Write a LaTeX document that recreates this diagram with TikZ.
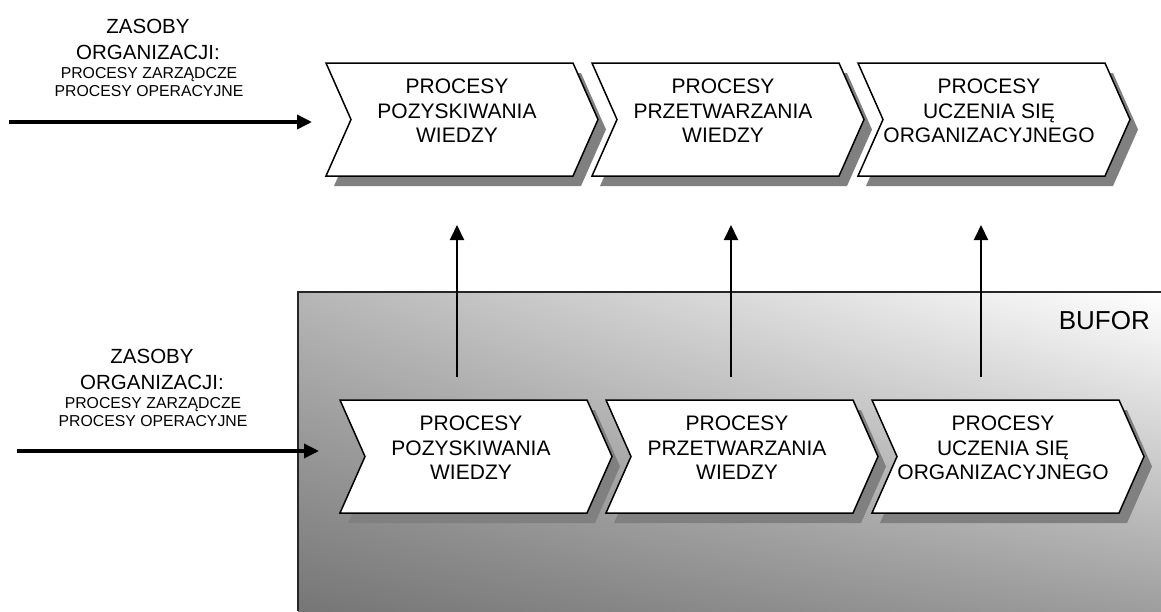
\documentclass[tikz,border=0pt]{standalone}
\usepackage{fontspec}
\setmainfont{Liberation Sans}
\usetikzlibrary{arrows.meta,shadings}

\definecolor{shadowgray}{HTML}{808080}
\definecolor{bufdark}{HTML}{767676}
\definecolor{bufupleft}{HTML}{B6B6B6}
\definecolor{buflowright}{HTML}{9E9E9E}

\tikzset{
  chevbox/.style={draw=black, line width=1.5pt, fill=white, line join=miter},
  chevshadow/.style={fill=shadowgray, draw=none},
  chevtext/.style={anchor=base, inner sep=0pt, font=\fontsize{21}{24}\selectfont},
  bigtext/.style={anchor=base, inner sep=0pt, font=\fontsize{20.5}{24}\selectfont},
  smalltext/.style={anchor=base, inner sep=0pt, font=\fontsize{15.8}{18}\selectfont},
  buftext/.style={anchor=base east, inner sep=0pt, font=\fontsize{26}{30}\selectfont},
  feedarrow/.style={line width=3.5pt, -{Triangle[length=15pt,width=14pt]}},
  liftarrow/.style={line width=2pt, -{Triangle[length=15pt,width=14pt]}},
  bufborder/.style={draw=black!85, line width=2pt},
}

% chevron: #1 name, #2 left x, #3 top y, #4-#6 text lines
\newcommand\chevronstep[6]{%
  \fill[chevshadow] (#2+8,#3+10) -- ++(247,0) -- ++(25,56.5) -- ++(-25,56.5)
    -- ++(-247,0) -- ++(25,-56.5) -- cycle;
  \draw[chevbox] (#2,#3) -- ++(247,0) -- ++(25,56.5) -- ++(-25,56.5)
    -- ++(-247,0) -- ++(25,-56.5) -- cycle;
  \node[chevtext] (#1-l1) at (#2+131,#3+30.3) {#4};
  \node[chevtext] (#1-l2) at (#2+131,#3+55) {#5};
  \node[chevtext] (#1-l3) at (#2+131,#3+79.5) {#6};
}

\begin{document}
\begin{tikzpicture}[x=1pt,y=-1pt]
  \useasboundingbox (0,0) rectangle (1161,611);

  % buffer area with diagonal gradient
  \shade[upper left=bufupleft, upper right=white, lower left=bufdark,
         lower right=buflowright] (298,292) rectangle (1161,611);
  \draw[bufborder] (1161,292) -- (298,292) -- (298,611);
  \node[buftext] (bufor) at (1150,329.3) {BUFOR};

  % upper chain
  \chevronstep{topA}{326}{63}{PROCESY}{POZYSKIWANIA}{WIEDZY}
  \chevronstep{topB}{592}{63}{PROCESY}{PRZETWARZANIA}{WIEDZY}
  \chevronstep{topC}{858}{63}{PROCESY}{UCZENIA SIĘ}{ORGANIZACYJNEGO}

  % lower chain inside the buffer
  \chevronstep{lowA}{340}{400}{PROCESY}{POZYSKIWANIA}{WIEDZY}
  \chevronstep{lowB}{606}{400}{PROCESY}{PRZETWARZANIA}{WIEDZY}
  \chevronstep{lowC}{872}{400}{PROCESY}{UCZENIA SIĘ}{ORGANIZACYJNEGO}

  % resource labels
  \node[bigtext]   (resT1) at (148,33.6) {ZASOBY};
  \node[bigtext]   (resT2) at (148,59.3) {ORGANIZACJI:};
  \node[smalltext] (resT3) at (149,78.8) {PROCESY ZARZĄDCZE};
  \node[smalltext] (resT4) at (149,96.8) {PROCESY OPERACYJNE};

  \node[bigtext]   (resL1) at (152,363.6) {ZASOBY};
  \node[bigtext]   (resL2) at (152,389.3) {ORGANIZACJI:};
  \node[smalltext] (resL3) at (153,408.8) {PROCESY ZARZĄDCZE};
  \node[smalltext] (resL4) at (153,426.8) {PROCESY OPERACYJNE};

  % input arrows
  \coordinate (inTs) at (9,122);
  \coordinate (inTe) at (312,122);
  \coordinate (inLs) at (17,451);
  \coordinate (inLe) at (319,451);
  \draw[feedarrow] (inTs) -- (inTe);
  \draw[feedarrow] (inLs) -- (inLe);

  % arrows from the buffer up to the upper chain
  \coordinate (upAs) at (457,377);
  \coordinate (upAe) at (457,225);
  \coordinate (upBs) at (731,377);
  \coordinate (upBe) at (731,225);
  \coordinate (upCs) at (981,377);
  \coordinate (upCe) at (981,225);
  \draw[liftarrow] (upAs) -- (upAe);
  \draw[liftarrow] (upBs) -- (upBe);
  \draw[liftarrow] (upCs) -- (upCe);
\end{tikzpicture}
\end{document}
